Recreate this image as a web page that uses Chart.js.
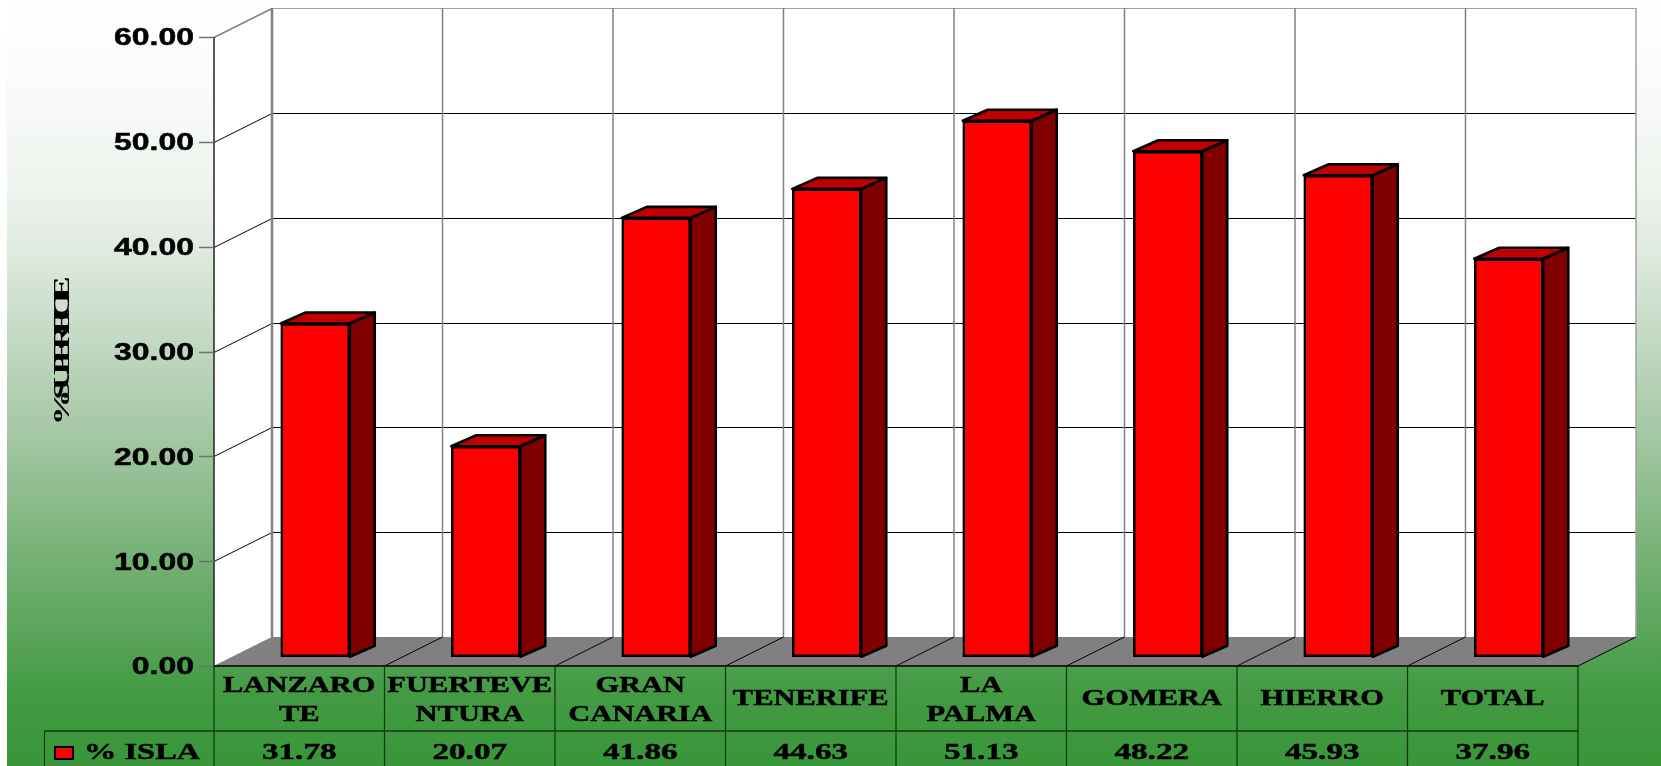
<!DOCTYPE html>
<html>
<head>
<meta charset="utf-8">
<title>% Superficie por isla</title>
<script src="https://cdn.jsdelivr.net/npm/chart.js@4/dist/chart.umd.js"></script>
<style>
  html, body { margin: 0; padding: 0; background: #fff; overflow: hidden; }
  canvas { display: block; }
</style>
</head>
<body>
<canvas id="surfaceChart" width="1661" height="766"></canvas>
<script>
// Chart values
const categories = [['LANZARO', 'TE'], ['FUERTEVE', 'NTURA'], ['GRAN', 'CANARIA'], ['TENERIFE'], ['LA', 'PALMA'], ['GOMERA'], ['HIERRO'], ['TOTAL']];
const seriesLabel = '% ISLA';
const islandValues = [31.78, 20.07, 41.86, 44.63, 51.13, 48.22, 45.93, 37.96];
const axisTitle = '%SUPERFICIE';
const axisMax = 60;
const axisStep = 10;

// Fake 3D depth, in pixels
const WALL_DX = 58, WALL_DY = -29;
const BAR_SHIFT_X = 16, BAR_SHIFT_Y = -9.3;
const BAR_DX = 25, BAR_DY = -11;

const SERIF = 'bold 24px "Liberation Serif"';
const SANS = 'bold 23px "Liberation Sans"';

function line(ctx, x1, y1, x2, y2, color, width) {
  ctx.strokeStyle = color;
  ctx.lineWidth = width;
  ctx.beginPath();
  ctx.moveTo(x1, y1);
  ctx.lineTo(x2, y2);
  ctx.stroke();
}

function poly(ctx, pts, fill) {
  ctx.fillStyle = fill;
  ctx.beginPath();
  pts.forEach((p, i) => (i ? ctx.lineTo(p[0], p[1]) : ctx.moveTo(p[0], p[1])));
  ctx.closePath();
  ctx.fill();
}

// The reference text is stretched sideways, canvas fonts can't do that on their own
function wideText(ctx, text, x, y, font, stretch, align) {
  ctx.save();
  ctx.font = font;
  ctx.fillStyle = '#000';
  ctx.strokeStyle = '#000';
  ctx.lineWidth = 0.5;
  ctx.textAlign = align;
  ctx.textBaseline = 'middle';
  ctx.translate(x, y);
  ctx.scale(stretch, 1);
  ctx.fillText(text, 0, 0);
  ctx.strokeText(text, 0, 0);
  ctx.restore();
}

const backdropPlugin = {
  id: 'backdrop',
  beforeDraw(chart) {
    const ctx = chart.ctx;
    const h = chart.height;
    const grad = ctx.createLinearGradient(0, 0, 0, h);
    grad.addColorStop(0, '#ffffff');
    grad.addColorStop(0.13, '#f8faf8');
    grad.addColorStop(0.24, '#eef4ee');
    grad.addColorStop(0.33, '#dfe9df');
    grad.addColorStop(0.57, '#a3c7a3');
    grad.addColorStop(0.78, '#66aa66');
    grad.addColorStop(0.91, '#429a42');
    grad.addColorStop(1, '#399639');
    ctx.fillStyle = '#ffffff';
    ctx.fillRect(0, 0, chart.width, h);
    ctx.fillStyle = grad;
    ctx.fillRect(7, 0, chart.width - 7, h);
  }
};

const wallsPlugin = {
  id: 'walls',
  beforeDatasetsDraw(chart) {
    const ctx = chart.ctx;
    const { left, right, top, bottom } = chart.chartArea;
    const yScale = chart.scales.y;
    const xScale = chart.scales.x;
    const colW = (right - left) / categories.length;

    // side wall and back wall
    poly(ctx, [[left, top], [left + WALL_DX, top + WALL_DY], [right + WALL_DX, top + WALL_DY], [right + WALL_DX, bottom + WALL_DY], [left + WALL_DX, bottom + WALL_DY], [left, bottom]], '#ffffff');

    // floor
    poly(ctx, [[left, bottom], [left + WALL_DX, bottom + WALL_DY], [right + WALL_DX, bottom + WALL_DY], [right, bottom]], '#808080');

    // horizontal grid
    yScale.ticks.forEach(t => {
      const y = Math.round(yScale.getPixelForValue(t.value)) + 0.5;
      if (t.value === 0) return;
      const isTop = t.value === axisMax;
      line(ctx, left, y, left + WALL_DX, y + WALL_DY, isTop ? '#808080' : '#000', isTop ? 1.5 : 1);
      line(ctx, left + WALL_DX, y + WALL_DY, right + WALL_DX, y + WALL_DY, isTop ? '#a0a0a0' : '#000', 1);
    });

    // vertical grid on the back wall and lines across the floor
    categories.forEach((c, i) => {
      const x = xScale.getPixelForValue(i) - colW / 2;
      line(ctx, x + WALL_DX, top + WALL_DY, x + WALL_DX, bottom + WALL_DY, '#808080', i === 0 ? 2.5 : 1.5);
      if (i > 0) line(ctx, x, bottom, x + WALL_DX, bottom + WALL_DY, '#000', 1);
    });
    line(ctx, right + WALL_DX, top + WALL_DY, right + WALL_DX, bottom + WALL_DY, '#a0a0a0', 1.5);
    line(ctx, right, bottom, right + WALL_DX, bottom + WALL_DY, '#000', 1);

    // front of the value axis
    line(ctx, left, top, left, bottom, '#222', 1.5);
    yScale.ticks.forEach(t => {
      const y = Math.round(yScale.getPixelForValue(t.value)) + 0.5;
      line(ctx, left - 15, y, left, y, '#707070', 1.5);
    });

    // bars sit in the middle of the floor depth
    ctx.save();
    ctx.translate(BAR_SHIFT_X, BAR_SHIFT_Y);
    const meta = chart.getDatasetMeta(0);
    meta.data.forEach(bar => {
      const half = bar.width / 2;
      const l = bar.x - half, r = bar.x + half;
      const topFace = [[l, bar.y], [l + BAR_DX, bar.y + BAR_DY], [r + BAR_DX, bar.y + BAR_DY], [r, bar.y]];
      const sideFace = [[r, bar.y], [r + BAR_DX, bar.y + BAR_DY], [r + BAR_DX, bar.base + BAR_DY], [r, bar.base]];
      poly(ctx, topFace, '#c00000');
      poly(ctx, sideFace, '#800000');
      ctx.strokeStyle = '#000';
      ctx.lineWidth = 2.6;
      ctx.lineJoin = 'round';
      [topFace, sideFace].forEach(p => {
        ctx.beginPath();
        p.forEach((q, i) => (i ? ctx.lineTo(q[0], q[1]) : ctx.moveTo(q[0], q[1])));
        ctx.closePath();
        ctx.stroke();
      });
    });
  },
  afterDatasetsDraw(chart) {
    chart.ctx.restore();
  }
};

const tablePlugin = {
  id: 'dataTable',
  afterDraw(chart) {
    const ctx = chart.ctx;
    const { left, right, bottom } = chart.chartArea;
    const xScale = chart.scales.x;
    const yScale = chart.scales.y;
    const colW = (right - left) / categories.length;
    const rowY = bottom + 65;
    const endY = chart.height;
    const tableLeft = 44.5;

    // value axis labels
    yScale.ticks.forEach(t => {
      wideText(ctx, t.label, left - 20, yScale.getPixelForValue(t.value) + 2, SANS, 1.39, 'right');
    });

    // rotated axis title
    ctx.save();
    ctx.translate(63, 356);
    ctx.rotate(-Math.PI / 2);
    ctx.scale(1.5, 1);
    ctx.font = SERIF;
    ctx.letterSpacing = '-7px';
    ctx.fillStyle = '#000';
    ctx.textAlign = 'center';
    ctx.textBaseline = 'middle';
    ctx.fillText(axisTitle, 0, 0);
    ctx.restore();

    // table rules
    const rule = '#0c3a0c';
    line(ctx, left, bottom, right, bottom, '#000', 1.5);
    line(ctx, tableLeft, rowY, right, rowY, '#000', 1.2);
    line(ctx, tableLeft, rowY, tableLeft, endY, rule, 1.2);
    for (let i = 0; i <= categories.length; i++) {
      const x = left + i * colW;
      line(ctx, x, bottom, x, endY, rule, 1.2);
    }

    // category labels and values
    categories.forEach((lines, i) => {
      const x = xScale.getPixelForValue(i);
      const mid = bottom + 33;
      lines.forEach((txt, k) => {
        const y = lines.length === 1 ? mid : mid + (k === 0 ? -13 : 16);
        wideText(ctx, txt, x, y, SERIF, 1.27, 'center');
      });
      wideText(ctx, islandValues[i].toFixed(2), x, rowY + 22, SERIF, 1.38, 'center');
    });

    // legend cell
    ctx.fillStyle = '#ff0000';
    ctx.fillRect(55, 747, 18, 12);
    ctx.strokeStyle = '#000';
    ctx.lineWidth = 2;
    ctx.strokeRect(55, 747, 18, 12);
    wideText(ctx, seriesLabel, 84, rowY + 22, SERIF, 1.35, 'left');
  }
};

new Chart(document.getElementById('surfaceChart').getContext('2d'), {
  type: 'bar',
  data: {
    labels: categories,
    datasets: [{
      label: seriesLabel,
      data: islandValues,
      backgroundColor: '#ff0000',
      borderColor: '#000000',
      borderWidth: 2.6,
      borderSkipped: false,
      barThickness: 69,
      clip: false
    }]
  },
  options: {
    responsive: false,
    animation: false,
    events: [],
    layout: { padding: { left: 214, right: 83, top: 37, bottom: 100 } },
    plugins: { legend: { display: false }, tooltip: { enabled: false } },
    scales: {
      x: {
        grid: { display: false, drawTicks: false },
        border: { display: false },
        ticks: { display: false }
      },
      y: {
        min: 0,
        max: axisMax,
        grid: { display: false, drawTicks: false },
        border: { display: false },
        ticks: { display: false, stepSize: axisStep, callback: v => v.toFixed(2) }
      }
    }
  },
  plugins: [backdropPlugin, wallsPlugin, tablePlugin]
});
</script>
</body>
</html>
